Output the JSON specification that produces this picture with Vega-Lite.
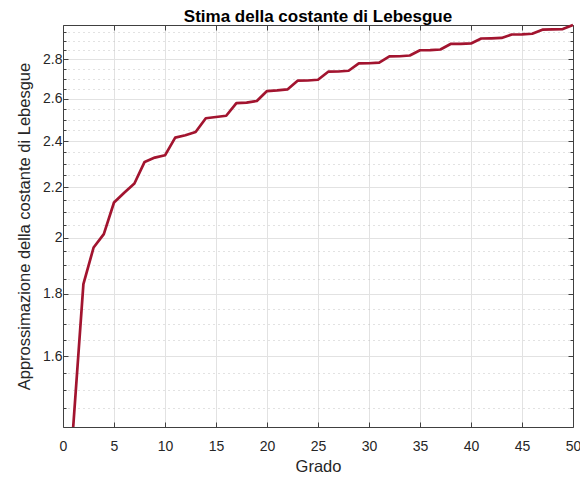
{
  "$schema": "https://vega.github.io/schema/vega-lite/v6.json",
  "width": 510,
  "height": 402,
  "autosize": {"type": "none"},
  "padding": {"left": 63, "top": 25, "right": 7, "bottom": 52},
  "background": "white",
  "title": {"text": "Stima della costante di Lebesgue", "font": "Liberation Sans", "fontSize": 17, "fontWeight": "bold", "color": "#000000", "anchor": "middle", "baseline": "alphabetic", "offset": -15},
  "data": {"values": [
    {"n": 1, "val": 1.400}, {"n": 2, "val": 1.833}, {"n": 3, "val": 1.964}, {"n": 4, "val": 2.014}, {"n": 5, "val": 2.138},
    {"n": 6, "val": 2.178}, {"n": 7, "val": 2.216}, {"n": 8, "val": 2.308}, {"n": 9, "val": 2.327}, {"n": 10, "val": 2.337},
    {"n": 11, "val": 2.416}, {"n": 12, "val": 2.427}, {"n": 13, "val": 2.442}, {"n": 14, "val": 2.506}, {"n": 15, "val": 2.512},
    {"n": 16, "val": 2.518}, {"n": 17, "val": 2.579}, {"n": 18, "val": 2.581}, {"n": 19, "val": 2.589}, {"n": 20, "val": 2.638},
    {"n": 21, "val": 2.641}, {"n": 22, "val": 2.646}, {"n": 23, "val": 2.690}, {"n": 24, "val": 2.691}, {"n": 25, "val": 2.695},
    {"n": 26, "val": 2.736}, {"n": 27, "val": 2.737}, {"n": 28, "val": 2.741}, {"n": 29, "val": 2.779}, {"n": 30, "val": 2.780},
    {"n": 31, "val": 2.783}, {"n": 32, "val": 2.816}, {"n": 33, "val": 2.817}, {"n": 34, "val": 2.821}, {"n": 35, "val": 2.849},
    {"n": 36, "val": 2.850}, {"n": 37, "val": 2.853}, {"n": 38, "val": 2.883}, {"n": 39, "val": 2.884}, {"n": 40, "val": 2.886},
    {"n": 41, "val": 2.913}, {"n": 42, "val": 2.914}, {"n": 43, "val": 2.916}, {"n": 44, "val": 2.935}, {"n": 45, "val": 2.936},
    {"n": 46, "val": 2.939}, {"n": 47, "val": 2.962}, {"n": 48, "val": 2.963}, {"n": 49, "val": 2.965}, {"n": 50, "val": 2.988}
  ]},
  "config": {
    "view": {"stroke": null},
    "axis": {
      "domainColor": "#404040", "tickColor": "#404040", "labelColor": "#262626", "titleColor": "#262626",
      "labelFont": "Liberation Sans", "titleFont": "Liberation Sans", "labelFontSize": 14, "titleFontSize": 16.5,
      "titleFontWeight": "normal", "gridColor": "#e2e2e2", "gridWidth": 1, "domainWidth": 1, "tickWidth": 1
    }
  },
  "layer": [
    {
      "mark": {"type": "line", "opacity": 0},
      "encoding": {
        "x": {"field": "n", "type": "quantitative", "scale": {"domain": [0, 50], "nice": false}, "axis": null},
        "y": {"field": "val", "type": "quantitative", "scale": {"type": "log", "domain": [1.4, 2.988], "nice": false, "zero": false},
          "axis": {"orient": "left", "values": [1.45, 1.5, 1.55, 1.65, 1.7, 1.75, 1.85, 1.9, 1.95, 2.05, 2.1, 2.15, 2.25, 2.3, 2.35, 2.45, 2.5, 2.55, 2.65, 2.7, 2.75, 2.85, 2.9, 2.95],
            "grid": true, "gridDash": [1, 4], "gridColor": "#c4c4c4", "labels": false, "tickSize": -3, "domain": false, "title": null}}
      }
    },
    {
      "mark": {"type": "line", "opacity": 0},
      "encoding": {
        "x": {"field": "n", "type": "quantitative", "scale": {"domain": [0, 50], "nice": false},
          "axis": {"orient": "bottom", "values": [0, 5, 10, 15, 20, 25, 30, 35, 40, 45, 50], "grid": true, "tickSize": -5, "labelPadding": 17, "title": "Grado", "titlePadding": 5, "labelFlush": false}},
        "y": {"field": "val", "type": "quantitative", "scale": {"type": "log", "domain": [1.4, 2.988], "nice": false, "zero": false},
          "axis": {"orient": "left", "values": [1.6, 1.8, 2, 2.2, 2.4, 2.6, 2.8], "format": ".2~f", "grid": true, "tickSize": -5, "labelPadding": 6, "title": "Approssimazione della costante di Lebesgue", "titlePadding": 10}}
      }
    },
    {
      "mark": {"type": "line", "opacity": 0},
      "encoding": {
        "x": {"field": "n", "type": "quantitative", "scale": {"domain": [0, 50], "nice": false},
          "axis": {"orient": "top", "values": [0, 5, 10, 15, 20, 25, 30, 35, 40, 45, 50], "grid": false, "tickSize": -5, "labels": false, "title": null}},
        "y": {"field": "val", "type": "quantitative", "scale": {"type": "log", "domain": [1.4, 2.988], "nice": false, "zero": false},
          "axis": {"orient": "right", "values": [1.6, 1.8, 2, 2.2, 2.4, 2.6, 2.8], "grid": false, "tickSize": -5, "labels": false, "title": null}}
      }
    },
    {
      "mark": {"type": "line", "opacity": 0},
      "encoding": {
        "x": {"field": "n", "type": "quantitative", "scale": {"domain": [0, 50], "nice": false}, "axis": null},
        "y": {"field": "val", "type": "quantitative", "scale": {"type": "log", "domain": [1.4, 2.988], "nice": false, "zero": false},
          "axis": {"orient": "right", "values": [1.45, 1.5, 1.55, 1.65, 1.7, 1.75, 1.85, 1.9, 1.95, 2.05, 2.1, 2.15, 2.25, 2.3, 2.35, 2.45, 2.5, 2.55, 2.65, 2.7, 2.75, 2.85, 2.9, 2.95],
            "grid": false, "labels": false, "tickSize": -3, "domain": false, "title": null}}
      }
    },
    {
      "mark": {"type": "line", "color": "#A2142F", "strokeWidth": 2.7, "strokeJoin": "round"},
      "encoding": {
        "x": {"field": "n", "type": "quantitative", "scale": {"domain": [0, 50], "nice": false}, "axis": null},
        "y": {"field": "val", "type": "quantitative", "scale": {"type": "log", "domain": [1.4, 2.988], "nice": false, "zero": false}, "axis": null}
      }
    }
  ],
  "resolve": {"axis": {"x": "independent", "y": "independent"}}
}
